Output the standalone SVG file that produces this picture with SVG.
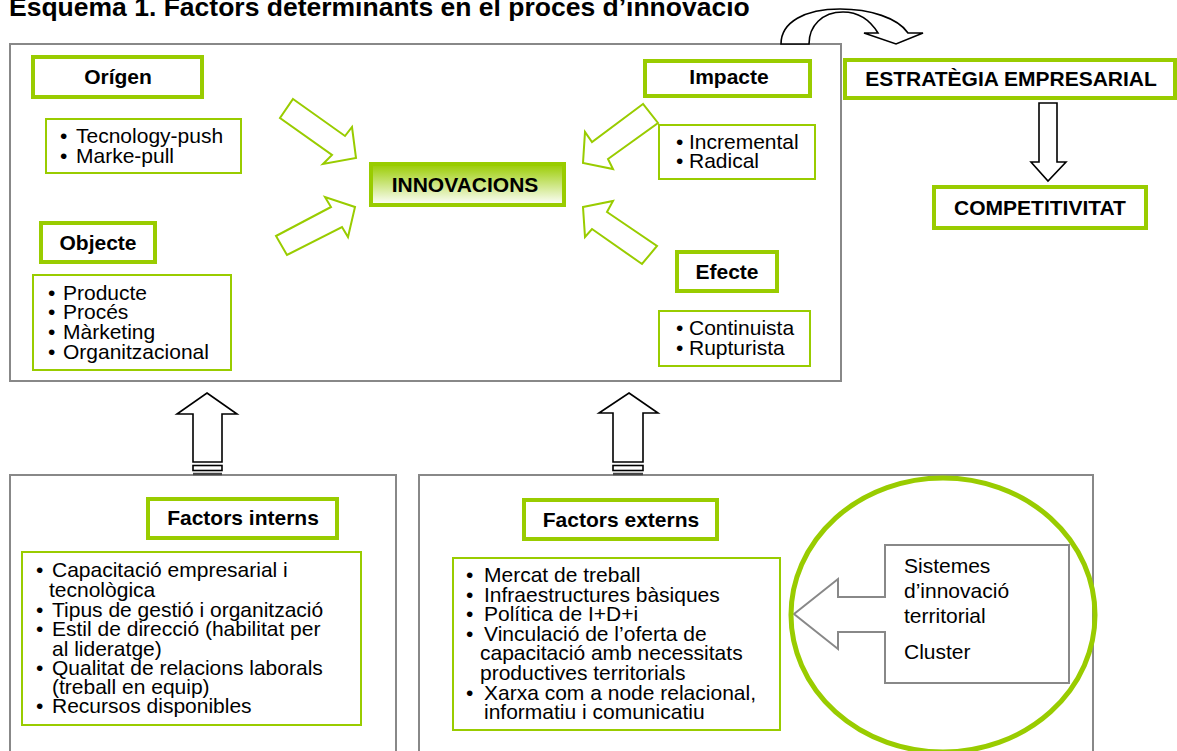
<svg xmlns="http://www.w3.org/2000/svg" width="1177" height="751" viewBox="0 0 1177 751">
<defs>
<linearGradient id="gInno" x1="0" y1="0" x2="0" y2="1">
<stop offset="0" stop-color="#99cc00"/>
<stop offset="1" stop-color="#ffffff"/>
</linearGradient>
<style>
.frame{fill:#fff;stroke:#888;stroke-width:2}
.head{fill:#fff;stroke:#99cc00;stroke-width:4}
.list{fill:#fff;stroke:#99cc00;stroke-width:2}
.ht{font-family:"Liberation Sans",Arial,sans-serif;font-weight:bold;font-size:21px;fill:#000;text-anchor:middle}
.bt{font-family:"Liberation Sans",Arial,sans-serif;font-size:21px;fill:#000}
.title{font-family:"Liberation Sans",Arial,sans-serif;font-weight:bold;font-size:26.5px;fill:#000}
.garrow{fill:#fff;stroke:#99cc00;stroke-width:2;stroke-linejoin:miter}
.barrow{fill:#fff;stroke:#000;stroke-width:1.6}
</style>
</defs>
<rect width="1177" height="751" fill="#fff"/>
<text class="title" x="9" y="16">Esquema 1. Factors determinants en el proces d’innovacio</text>

<g id="frame-top"><rect class="frame" x="10" y="44" width="831" height="337"/></g>
<g id="frame-interns"><rect class="frame" x="10" y="475" width="386" height="290"/></g>
<g id="frame-externs"><rect class="frame" x="419" y="475" width="674" height="290"/></g>

<g id="connectors">
<polygon class="garrow" points="293,99 345,136 352,127 356,158 323,164 332,155 280,118"/>
<polygon class="garrow" points="276,236 331,207 325,197 355,207 348,237 342,227 287,255"/>
<polygon class="garrow" points="643,104 592,142 585,132 583,163 613,169 608,159 658,123"/>
<polygon class="garrow" points="583,207 613,201 607,212 657,246 642,264 592,229 585,237"/>
<path class="barrow" d="M781,44 C781,22 805,9 840,9 C870,9 898,18 908,33 L923,33 L896,44 L864,33 L878,33 C870,20 858,12 843,12 C822,12 809,26 809,44 Z"/>
<path class="barrow" d="M1039,103 L1057,103 L1057,162 L1066,162 L1048,181 L1031,162 L1039,162 Z"/>
<path class="barrow" d="M207,393 L237,414 L222,414 L222,462 L193,462 L193,414 L177,414 Z"/>
<rect class="barrow" x="193" y="465.5" width="29" height="5"/>
<line x1="193" y1="474" x2="222" y2="474" stroke="#444" stroke-width="2.5"/>
<path class="barrow" d="M629,393 L658,413 L643,413 L643,462 L613,462 L613,413 L599,413 Z"/>
<rect class="barrow" x="613" y="465.5" width="30" height="5"/>
<line x1="613" y1="474" x2="643" y2="474" stroke="#444" stroke-width="2.5"/>
</g>

<g id="origen"><rect class="head" x="33" y="57" width="169" height="40"/><text class="ht" x="118" y="84">Orígen</text></g>
<g id="origen-list"><rect class="list" x="46" y="119" width="195" height="54"/>
<text class="bt" x="60" y="143">•</text><text class="bt" x="76" y="143">Tecnology-push</text>
<text class="bt" x="60" y="163">•</text><text class="bt" x="76" y="163">Marke-pull</text></g>

<g id="innovacions"><rect x="371" y="164" width="193" height="41" fill="url(#gInno)" stroke="#99cc00" stroke-width="4"/><text class="ht" x="465" y="192">INNOVACIONS</text></g>

<g id="impacte"><rect class="head" x="645" y="61" width="165" height="35"/><text class="ht" x="729" y="84">Impacte</text></g>
<g id="impacte-list"><rect class="list" x="659" y="125" width="156" height="54"/>
<text class="bt" x="676" y="149">•</text><text class="bt" x="689" y="149">Incremental</text>
<text class="bt" x="676" y="168">•</text><text class="bt" x="689" y="168">Radical</text></g>

<g id="objecte"><rect class="head" x="41" y="223" width="114" height="39"/><text class="ht" x="98" y="250">Objecte</text></g>
<g id="objecte-list"><rect class="list" x="33" y="275" width="198" height="95"/>
<text class="bt" x="48" y="300">•</text><text class="bt" x="63" y="300">Producte</text>
<text class="bt" x="48" y="319">•</text><text class="bt" x="63" y="319">Procés</text>
<text class="bt" x="48" y="339">•</text><text class="bt" x="63" y="339">Màrketing</text>
<text class="bt" x="48" y="359">•</text><text class="bt" x="63" y="359">Organitzacional</text></g>

<g id="efecte"><rect class="head" x="677" y="252" width="100" height="39"/><text class="ht" x="727" y="279">Efecte</text></g>
<g id="efecte-list"><rect class="list" x="659" y="311" width="151" height="55"/>
<text class="bt" x="676" y="335">•</text><text class="bt" x="689" y="335">Continuista</text>
<text class="bt" x="676" y="355">•</text><text class="bt" x="689" y="355">Rupturista</text></g>

<g id="estrategia"><rect class="head" x="845" y="60" width="330" height="38"/><text class="ht" x="1011" y="86">ESTRATÈGIA EMPRESARIAL</text></g>
<g id="competitivitat"><rect class="head" x="934" y="187" width="212" height="41"/><text class="ht" x="1040" y="215">COMPETITIVITAT</text></g>

<g id="factors-interns"><rect class="head" x="148" y="499" width="189" height="39"/><text class="ht" x="243" y="525">Factors interns</text></g>
<g id="interns-list"><rect class="list" x="22" y="552" width="339" height="173"/>
<text class="bt" x="36" y="577">•</text><text class="bt" x="52" y="577">Capacitació empresarial i</text>
<text class="bt" x="49" y="597">tecnològica</text>
<text class="bt" x="36" y="617">•</text><text class="bt" x="52" y="617">Tipus de gestió i organització</text>
<text class="bt" x="36" y="636">•</text><text class="bt" x="52" y="636">Estil de direcció (habilitat per</text>
<text class="bt" x="52" y="656">al lideratge)</text>
<text class="bt" x="36" y="675">•</text><text class="bt" x="52" y="675">Qualitat de relacions laborals</text>
<text class="bt" x="52" y="694">(treball en equip)</text>
<text class="bt" x="36" y="713">•</text><text class="bt" x="52" y="713">Recursos disponibles</text></g>

<g id="factors-externs"><rect class="head" x="524" y="500" width="193" height="39"/><text class="ht" x="621" y="527">Factors externs</text></g>
<g id="externs-list"><rect class="list" x="453" y="558" width="327" height="172"/>
<text class="bt" x="466" y="582">•</text><text class="bt" x="484" y="582">Mercat de treball</text>
<text class="bt" x="466" y="602">•</text><text class="bt" x="484" y="602">Infraestructures bàsiques</text>
<text class="bt" x="466" y="621">•</text><text class="bt" x="484" y="621">Política de I+D+i</text>
<text class="bt" x="466" y="641">•</text><text class="bt" x="484" y="641">Vinculació de l’oferta de</text>
<text class="bt" x="480" y="660">capacitació amb necessitats</text>
<text class="bt" x="480" y="680">productives territorials</text>
<text class="bt" x="466" y="700">•</text><text class="bt" x="484" y="700">Xarxa com a node relacional,</text>
<text class="bt" x="484" y="719">informatiu i comunicatiu</text></g>

<g id="sistemes"><path d="M885,545 L1069,545 L1069,683 L885,683 L885,632 L838,632 L838,649 L794,614 L838,579 L838,597 L885,597 Z" fill="#fff" stroke="#888" stroke-width="2"/>
<text class="bt" x="904" y="573">Sistemes</text>
<text class="bt" x="904" y="598">d’innovació</text>
<text class="bt" x="904" y="623">territorial</text>
<text class="bt" x="904" y="659">Cluster</text></g>

<g id="cluster-circle"><ellipse cx="943" cy="615" rx="152" ry="137" fill="none" stroke="#99cc00" stroke-width="5"/></g>
</svg>
